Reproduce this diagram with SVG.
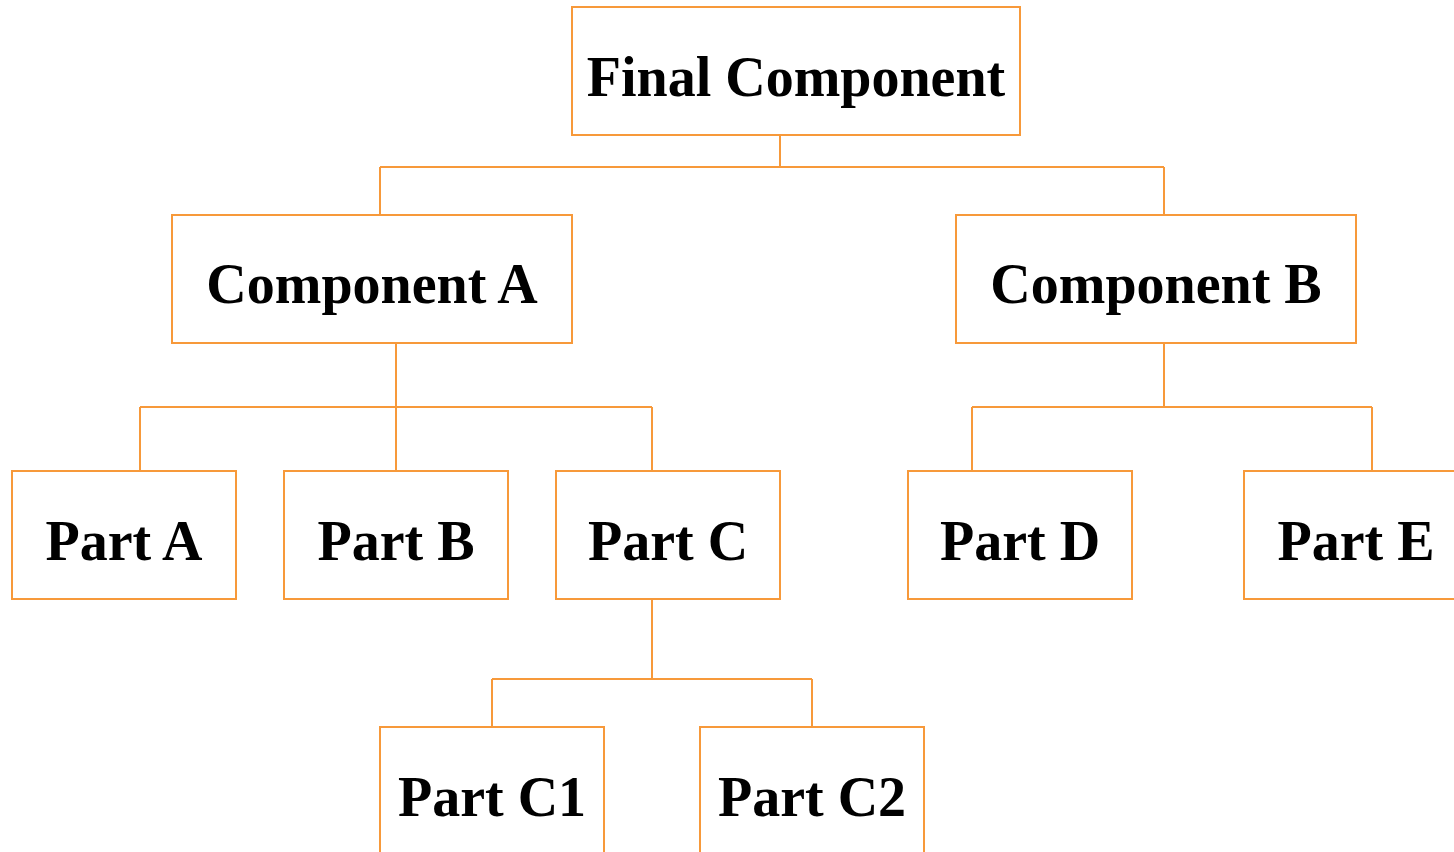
<svg xmlns="http://www.w3.org/2000/svg" width="1454" height="852" viewBox="0 0 1454 852">
  <style>
    .box { fill: #ffffff; stroke: #F7993A; stroke-width: 2; }
    .link { fill: none; stroke: #F7993A; stroke-width: 2; }
    .label { font-family: "Liberation Serif", "Times New Roman", serif; font-weight: bold; font-size: 56px; fill: #000000; text-anchor: middle; }
  </style>
  <rect width="1454" height="852" fill="#ffffff"/>

  <!-- tree connectors -->
  <g id="connectors">
    <path class="link" d="M780 135 V167 M380 167 H1164 M380 167 V215 M1164 167 V215"/>
    <path class="link" d="M396 343 V407 M140 407 H652 M140 407 V471 M396 407 V471 M652 407 V471"/>
    <path class="link" d="M1164 343 V407 M972 407 H1372 M972 407 V471 M1372 407 V471"/>
    <path class="link" d="M652 599 V679 M492 679 H812 M492 679 V727 M812 679 V727"/>
  </g>

  <g id="final-component">
    <rect class="box" x="572" y="7" width="448" height="128"/>
    <text class="label" x="796" y="96">Final Component</text>
  </g>

  <g id="component-a">
    <rect class="box" x="172" y="215" width="400" height="128"/>
    <text class="label" x="372" y="303">Component A</text>
  </g>

  <g id="component-b">
    <rect class="box" x="956" y="215" width="400" height="128"/>
    <text class="label" x="1156" y="303">Component B</text>
  </g>

  <g id="part-a">
    <rect class="box" x="12" y="471" width="224" height="128"/>
    <text class="label" x="124" y="560">Part A</text>
  </g>

  <g id="part-b">
    <rect class="box" x="284" y="471" width="224" height="128"/>
    <text class="label" x="396" y="560">Part B</text>
  </g>

  <g id="part-c">
    <rect class="box" x="556" y="471" width="224" height="128"/>
    <text class="label" x="668" y="560">Part C</text>
  </g>

  <g id="part-d">
    <rect class="box" x="908" y="471" width="224" height="128"/>
    <text class="label" x="1020" y="560">Part D</text>
  </g>

  <g id="part-e">
    <rect class="box" x="1244" y="471" width="224" height="128"/>
    <text class="label" x="1356" y="560">Part E</text>
  </g>

  <g id="part-c1">
    <rect class="box" x="380" y="727" width="224" height="140"/>
    <text class="label" x="492" y="816">Part C1</text>
  </g>

  <g id="part-c2">
    <rect class="box" x="700" y="727" width="224" height="140"/>
    <text class="label" x="812" y="816">Part C2</text>
  </g>
</svg>
